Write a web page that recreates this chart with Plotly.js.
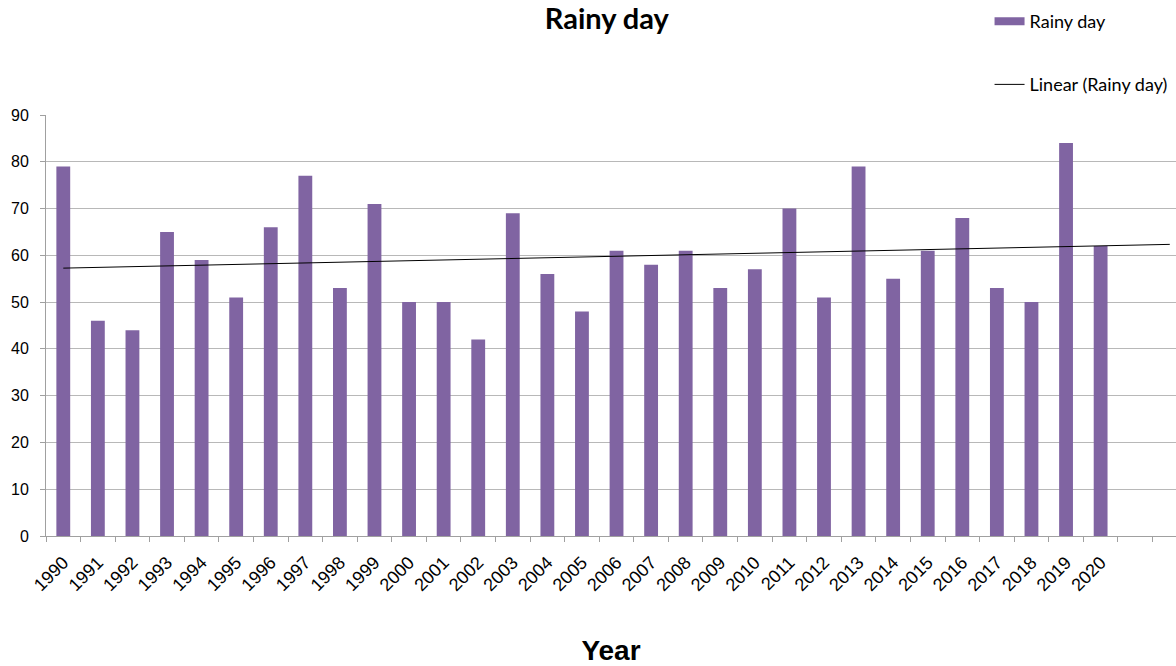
<!DOCTYPE html>
<html>
<head>
<meta charset="utf-8">
<script src="https://cdn.plot.ly/plotly-3.0.1.min.js"></script>
<style>
  html, body { margin: 0; padding: 0; background: #fff; }
  #chart { width: 1176px; height: 666px; }
</style>
</head>
<body>
<div id="chart"></div>
<script>
// Annual number of rainy days
const years = ["1990","1991","1992","1993","1994","1995","1996","1997","1998","1999",
               "2000","2001","2002","2003","2004","2005","2006","2007","2008","2009",
               "2010","2011","2012","2013","2014","2015","2016","2017","2018","2019","2020"];
const rainyDays = [79, 46, 44, 65, 59, 51, 66, 77, 53, 71,
                   50, 50, 42, 69, 56, 48, 61, 58, 61, 53,
                   57, 70, 51, 79, 55, 61, 68, 53, 50, 84, 62];
// Trend is projected two periods past the last year
const forecastYears = ["2021", "2022"];

// Least-squares linear fit over the period index
const n = rainyDays.length;
const idx = rainyDays.map((_, i) => i + 1);
const mx = idx.reduce((a, b) => a + b, 0) / n;
const my = rainyDays.reduce((a, b) => a + b, 0) / n;
let sxy = 0, sxx = 0;
for (let i = 0; i < n; i++) {
  sxy += (idx[i] - mx) * (rainyDays[i] - my);
  sxx += (idx[i] - mx) * (idx[i] - mx);
}
const slope = sxy / sxx;
const intercept = my - slope * mx;
const trendX = years.concat(forecastYears);
const trendY = trendX.map((_, i) => intercept + slope * (i + 1));

const allCats = years.concat(forecastYears);
const tickText = years.concat(forecastYears.map(() => ""));

const barColor = "#8064A2";

const bars = {
  type: "bar",
  name: "Rainy day",
  x: years,
  y: rainyDays,
  width: 0.4,
  marker: { color: barColor, line: { width: 0 } },
  showlegend: false
};
// Legend entry for the bars, shown as a wide swatch
const barKey = {
  type: "scatter",
  mode: "lines",
  name: "Rainy day",
  x: [null],
  y: [null],
  line: { color: barColor, width: 8 },
  hoverinfo: "skip",
  legend: "legend"
};
const trend = {
  type: "scatter",
  mode: "lines",
  name: "Linear (Rainy day)",
  x: trendX,
  y: trendY,
  line: { color: "#000000", width: 1 },
  legend: "legend2"
};

const layout = {
  width: 1176,
  height: 666,
  paper_bgcolor: "#ffffff",
  plot_bgcolor: "#ffffff",
  margin: { l: 46, r: 0, t: 115, b: 130 },
  font: { family: "Liberation Sans, Arial, sans-serif", color: "#000000", size: 15 },
  title: {
    text: "<b>Rainy day</b>",
    font: { family: "Lato, Open Sans, sans-serif", size: 29, color: "#000000" },
    x: 0.516, xanchor: "center",
    y: 0.9715, yanchor: "middle", yref: "container",
    pad: { t: 0, b: 0 }
  },
  xaxis: {
    type: "category",
    categoryorder: "array",
    categoryarray: allCats,
    tickmode: "array",
    tickvals: allCats,
    ticktext: tickText,
    tickson: "boundaries",
    ticks: "outside",
    ticklen: 5,
    tickcolor: "#a0a0a0",
    tickangle: -45,
    ticklabelstandoff: 8,
    tickfont: { size: 18, family: "Liberation Sans, Arial, sans-serif" },
    range: [-0.5, 32.18],
    showline: true,
    linecolor: "#a0a0a0",
    linewidth: 1,
    showgrid: false,
    zeroline: false,
    title: {
      text: "<b>Year</b>",
      font: { size: 28, family: "Liberation Sans, Arial, sans-serif" },
      standoff: 52
    }
  },
  yaxis: {
    range: [0, 90],
    tickvals: [0, 10, 20, 30, 40, 50, 60, 70, 80, 90],
    ticks: "outside",
    ticklen: 5,
    tickcolor: "#a0a0a0",
    ticklabelstandoff: 8,
    tickfont: { size: 16, family: "Liberation Sans, Arial, sans-serif" },
    showline: true,
    linecolor: "#a0a0a0",
    linewidth: 1,
    showgrid: true,
    gridcolor: "#b8b8b8",
    gridwidth: 1,
    zeroline: false
  },
  showlegend: true,
  legend: {
    x: 0.835, xanchor: "left",
    y: 1.222, yanchor: "middle",
    bgcolor: "rgba(0,0,0,0)",
    font: { family: "Lato, Open Sans, sans-serif", size: 18 },
    itemwidth: 30
  },
  legend2: {
    x: 0.835, xanchor: "left",
    y: 1.072, yanchor: "middle",
    bgcolor: "rgba(0,0,0,0)",
    font: { family: "Lato, Open Sans, sans-serif", size: 18 },
    itemwidth: 30
  },
  bargap: 0.6
};

Plotly.newPlot("chart", [bars, barKey, trend], layout, { displayModeBar: false, staticPlot: true });
</script>
</body>
</html>
